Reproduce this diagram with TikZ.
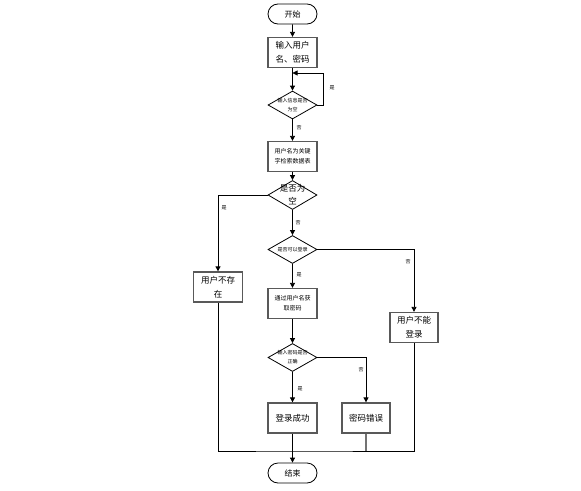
\documentclass[tikz,border=0pt]{standalone}
\usepackage{fontspec}
\setmainfont{Noto Sans CJK SC}
\usetikzlibrary{shapes.geometric,shapes.misc,arrows.meta}

\tikzset{
  term/.style={rounded rectangle,draw,line width=0.8pt,minimum width=49pt,minimum height=20pt,inner sep=0pt,font=\fontsize{8}{10}\selectfont},
  proc/.style={rectangle,draw=black!65,line width=1.3pt,minimum width=49pt,minimum height=30pt,inner sep=0pt,align=center},
  dec/.style={diamond,draw,line width=0.8pt,minimum width=49pt,minimum height=28pt,inner sep=0pt},
  yn/.style={inner sep=0pt,font=\fontsize{5}{6}\selectfont},
  big/.style={font=\fontsize{8.5}{14}\selectfont},
  small/.style={font=\fontsize{6}{10}\selectfont},
  tiny/.style={align=center,inner sep=0pt,font=\fontsize{5}{9}\selectfont}
}

\begin{document}
\begin{tikzpicture}[x=1pt,y=-1pt,>={Triangle[length=5pt,width=5pt]},line width=0.8pt]
  \useasboundingbox (0,0) rectangle (581,490);

  % nodes
  \node[term] (1) at (292.5,14) {开始};
  \node[proc,big] (2) at (292.5,52.5) {输入用户\\名、密码};
  \node[dec,label={[tiny]center:输入信息是否\\为空}] (3) at (292.5,105) {};
  \node[proc,small] (4) at (292.5,156.5) {用户名为关键\\字检索数据表};
  \node[dec,minimum height=29pt,label={[tiny,font=\fontsize{8.5}{13}\selectfont]center:是否为\\空}] (5) at (292.5,195) {};
  \node[proc,big] (6) at (218,287) {用户不存\\在};
  \node[dec,label={[tiny]center:是否可以登录}] (7) at (292.5,249.5) {};
  \node[proc,small] (8) at (292.5,303.5) {通过用户名获\\取密码};
  \node[proc,big,minimum width=48pt] (9) at (414,327.5) {用户不能\\登录};
  \node[dec,label={[tiny]center:输入密码是否\\正确}] (10) at (292.5,357.5) {};
  \node[proc,big] (11) at (292.5,418) {登录成功};
  \node[proc,big,minimum width=48pt] (12) at (366,418) {密码错误};
  \node[term] (13) at (292.5,473) {结束};

  \coordinate (back) at (292.5,73);
  \coordinate (join) at (292.5,451);

  % connectors
  \draw[->] (1) -- (2);
  \draw[->] (2) -- (3);
  \draw[->] (3.east) -- ++(6,0) |- (back);
  \draw[->] (3) -- (4);
  \draw[->] (4) -- (5);
  \draw[->] (5.west) -| (6);
  \draw[->] (5) -- (7);
  \draw[->] (7.east) -| (9);
  \draw[->] (7) -- (8);
  \draw[->] (8) -- (10);
  \draw[->] (10.east) -| (12);
  \draw[->] (10) -- (11);
  \draw[->] (11) -- (13);
  \draw (6) |- (join) -| (9);
  \draw[black!55,line width=1.3pt] (12) -- (12 |- join);

  % yes / no
  \node[yn] (y1) at (332,88) {是};
  \node[yn] (n1) at (299,128) {否};
  \node[yn] (y2) at (224,208) {是};
  \node[yn] (n2) at (298,223) {否};
  \node[yn] (n3) at (408,262) {否};
  \node[yn] (y3) at (299,275) {是};
  \node[yn] (n4) at (361,370) {否};
  \node[yn] (y4) at (300,389) {是};

\end{tikzpicture}
\end{document}
